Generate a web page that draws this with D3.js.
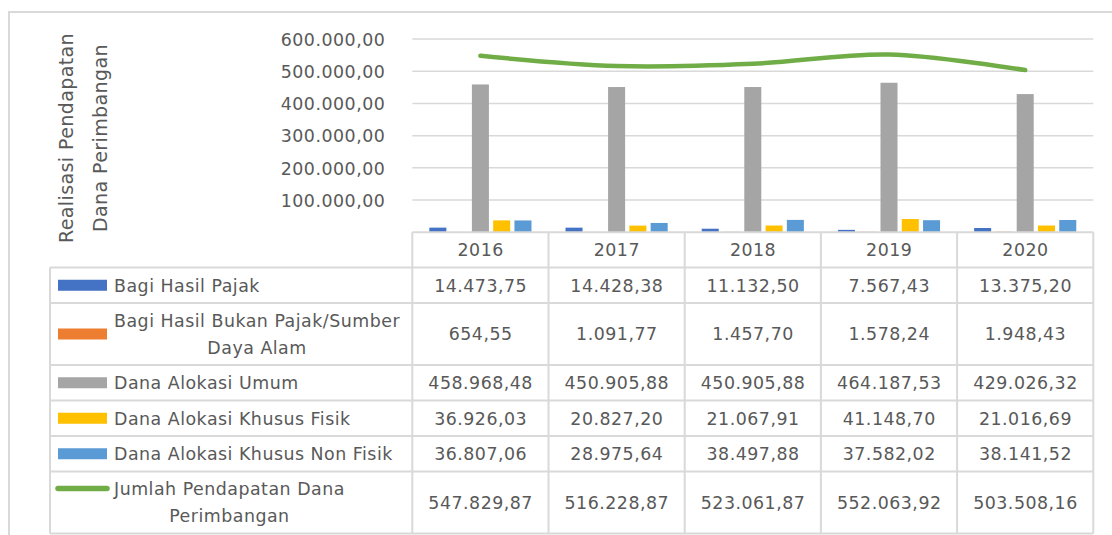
<!DOCTYPE html>
<html>
<head>
<meta charset="utf-8">
<script src="https://cdn.jsdelivr.net/npm/d3@7"></script>
<style>
  html, body { margin: 0; padding: 0; background: #ffffff; }
  svg { display: block; }
  text { font-family: "DejaVu Sans", sans-serif; fill: #595959; }
</style>
</head>
<body>
<svg id="chart" width="1112" height="535"></svg>
<script>
// ---- data ----
const years = ["2016", "2017", "2018", "2019", "2020"];
const seriesNames = [
  "Bagi Hasil Pajak",
  "Bagi Hasil Bukan Pajak/Sumber Daya Alam",
  "Dana Alokasi Umum",
  "Dana Alokasi Khusus Fisik",
  "Dana Alokasi Khusus Non Fisik"
];
const barColors = ["#4472C4", "#ED7D31", "#A5A5A5", "#FFC000", "#5B9BD5"];
const bagiHasilPajak      = [14473.75, 14428.38, 11132.50, 7567.43, 13375.20];
const bagiHasilBukanPajak = [654.55, 1091.77, 1457.70, 1578.24, 1948.43];
const danaAlokasiUmum     = [458968.48, 450905.88, 450905.88, 464187.53, 429026.32];
const dakFisik            = [36926.03, 20827.20, 21067.91, 41148.70, 21016.69];
const dakNonFisik         = [36807.06, 28975.64, 38497.88, 37582.02, 38141.52];
const lineName = "Jumlah Pendapatan Dana Perimbangan";
const lineColor = "#70AD47";
const jumlahPendapatan    = [547829.87, 516228.87, 523061.87, 552063.92, 503508.16];
const yTicks = [100000, 200000, 300000, 400000, 500000, 600000];
const yTitleLines = ["Realisasi Pendapatan", "Dana Perimbangan"];

const barSeries = [bagiHasilPajak, bagiHasilBukanPajak, danaAlokasiUmum, dakFisik, dakNonFisik];

// ---- setup ----
const svg = d3.select("#chart");
const locale = d3.formatLocale({ decimal: ",", thousands: ".", grouping: [3], currency: ["", ""] });
const fmt = locale.format(",.2f");

const gridColor = "#D9D9D9";
const fontSize = 17.4;
const ls = 0.5;

const plotLeft = 412.3, plotRight = 1093.3, plotTop = 39, plotBottom = 232.3;

const x0 = d3.scaleBand().domain(years).range([plotLeft, plotRight]).padding(0);
const x1 = d3.scaleBand().domain(d3.range(barSeries.length)).range([0, x0.bandwidth()])
  .paddingInner(0.2).paddingOuter(0.8);
const y = d3.scaleLinear().domain([0, 600000]).range([plotBottom, plotTop]);

// outer frame
svg.append("rect").attr("x", 9).attr("y", 12).attr("width", 1300).attr("height", 700)
  .attr("fill", "none").attr("stroke", gridColor).attr("stroke-width", 2);

// gridlines
svg.append("g").selectAll("line").data(yTicks).join("line")
  .attr("x1", plotLeft).attr("x2", plotRight)
  .attr("y1", d => y(d)).attr("y2", d => y(d))
  .attr("stroke", gridColor).attr("stroke-width", 1.5);

// y axis labels
const yAxis = svg.append("g").attr("transform", `translate(${plotLeft},0)`)
  .call(d3.axisLeft(y).tickValues(yTicks).tickSize(0).tickPadding(27).tickFormat(fmt));
yAxis.select(".domain").remove();
yAxis.selectAll("text").attr("font-family", "DejaVu Sans").attr("font-size", fontSize)
  .attr("fill", "#595959").style("letter-spacing", ls + "px").attr("dy", "0.36em");

// y title
const titleX = [73, 107];
yTitleLines.forEach((t, i) => {
  svg.append("text")
    .attr("transform", `translate(${titleX[i]},138) rotate(-90)`)
    .attr("text-anchor", "middle")
    .attr("font-size", 19)
    .style("letter-spacing", "0.4px")
    .text(t);
});

// bars
const barG = svg.append("g");
barSeries.forEach((vals, si) => {
  barG.append("g").selectAll("rect").data(vals).join("rect")
    .attr("x", (d, i) => x0(years[i]) + x1(si))
    .attr("width", x1.bandwidth())
    .attr("y", d => y(d))
    .attr("height", d => y(0) - y(d))
    .attr("fill", barColors[si]);
});

// line
const lineGen = d3.line()
  .x((d, i) => x0(years[i]) + x0.bandwidth() / 2)
  .y(d => y(d))
  .curve(d3.curveCatmullRom.alpha(0.5));
svg.append("path").datum(jumlahPendapatan)
  .attr("d", lineGen)
  .attr("fill", "none").attr("stroke", lineColor).attr("stroke-width", 4.5)
  .attr("stroke-linecap", "round").attr("stroke-linejoin", "round");

// ---- data table ----
const tableLeft = 50;
const textStartX = 114;
const wrapWidth = 296;

// measure helper
const measure = svg.append("text").attr("font-size", fontSize).style("letter-spacing", ls + "px")
  .attr("visibility", "hidden");
function textWidth(s) { measure.text(s); return measure.node().getComputedTextLength(); }
function wrap(s) {
  const words = s.split(" ");
  const lines = [];
  let cur = "";
  words.forEach(w => {
    const test = cur ? cur + " " + w : w;
    if (cur && textWidth(test) > wrapWidth) { lines.push(cur); cur = w; }
    else cur = test;
  });
  if (cur) lines.push(cur);
  return lines;
}

const rows = seriesNames.map((n, i) => ({ name: n, values: barSeries[i], color: barColors[i], type: "bar" }));
rows.push({ name: lineName, values: jumlahPendapatan, color: lineColor, type: "line" });

const headerTop = plotBottom, headerBottom = 267.5;
let cy = headerBottom;
rows.forEach(r => {
  r.lines = wrap(r.name);
  r.h = r.lines.length > 1 ? 62 : 35.5;
  r.top = cy; cy += r.h; r.bottom = cy;
});
const tableBottom = cy;

const tg = svg.append("g");
// header year labels
tg.selectAll("text.year").data(years).join("text")
  .attr("class", "year")
  .attr("x", d => x0(d) + x0.bandwidth() / 2 + ls / 2)
  .attr("y", (headerTop + headerBottom) / 2)
  .attr("dy", "0.36em")
  .attr("text-anchor", "middle")
  .attr("font-size", fontSize)
  .style("letter-spacing", ls + "px")
  .text(d => d);

// row contents
rows.forEach(r => {
  const mid = (r.top + r.bottom) / 2;
  // legend key
  if (r.type === "bar") {
    tg.append("rect").attr("x", 58).attr("y", mid - 5.5).attr("width", 49).attr("height", 11)
      .attr("fill", r.color);
  } else {
    const ky = r.top + 17;
    tg.append("line").attr("x1", 58).attr("x2", 107).attr("y1", ky).attr("y2", ky)
      .attr("stroke", r.color).attr("stroke-width", 5.5).attr("stroke-linecap", "round");
  }
  // legend label
  const maxW = d3.max(r.lines, l => textWidth(l));
  const lineH = 27;
  const firstY = mid - (r.lines.length - 1) * lineH / 2;
  r.lines.forEach((l, li) => {
    tg.append("text")
      .attr("x", r.lines.length > 1 ? textStartX + maxW / 2 : textStartX)
      .attr("y", firstY + li * lineH)
      .attr("dy", "0.36em")
      .attr("text-anchor", r.lines.length > 1 ? "middle" : "start")
      .attr("font-size", fontSize)
      .style("letter-spacing", ls + "px")
      .text(l);
  });
  // values
  tg.append("g").selectAll("text").data(r.values).join("text")
    .attr("x", (d, i) => x0(years[i]) + x0.bandwidth() / 2 + ls / 2)
    .attr("y", mid)
    .attr("dy", "0.36em")
    .attr("text-anchor", "middle")
    .attr("font-size", fontSize)
    .style("letter-spacing", ls + "px")
    .text(d => fmt(d));
});
measure.remove();

// table borders
const bc = gridColor, bw = 2;
// horizontal: header top & header bottom (years area)
tg.append("line").attr("x1", plotLeft).attr("x2", plotRight).attr("y1", headerTop).attr("y2", headerTop)
  .attr("stroke", bc).attr("stroke-width", bw);
const hLines = [headerBottom].concat(rows.map(r => r.bottom));
tg.append("g").selectAll("line").data(hLines).join("line")
  .attr("x1", tableLeft).attr("x2", plotRight)
  .attr("y1", d => d).attr("y2", d => d)
  .attr("stroke", bc).attr("stroke-width", bw);
// vertical lines
tg.append("line").attr("x1", tableLeft).attr("x2", tableLeft).attr("y1", headerBottom).attr("y2", tableBottom)
  .attr("stroke", bc).attr("stroke-width", bw);
const vx = years.map(d => x0(d)).concat([plotRight]);
tg.append("g").selectAll("line").data(vx).join("line")
  .attr("x1", d => d).attr("x2", d => d)
  .attr("y1", headerTop).attr("y2", tableBottom)
  .attr("stroke", bc).attr("stroke-width", bw);
</script>
</body>
</html>
